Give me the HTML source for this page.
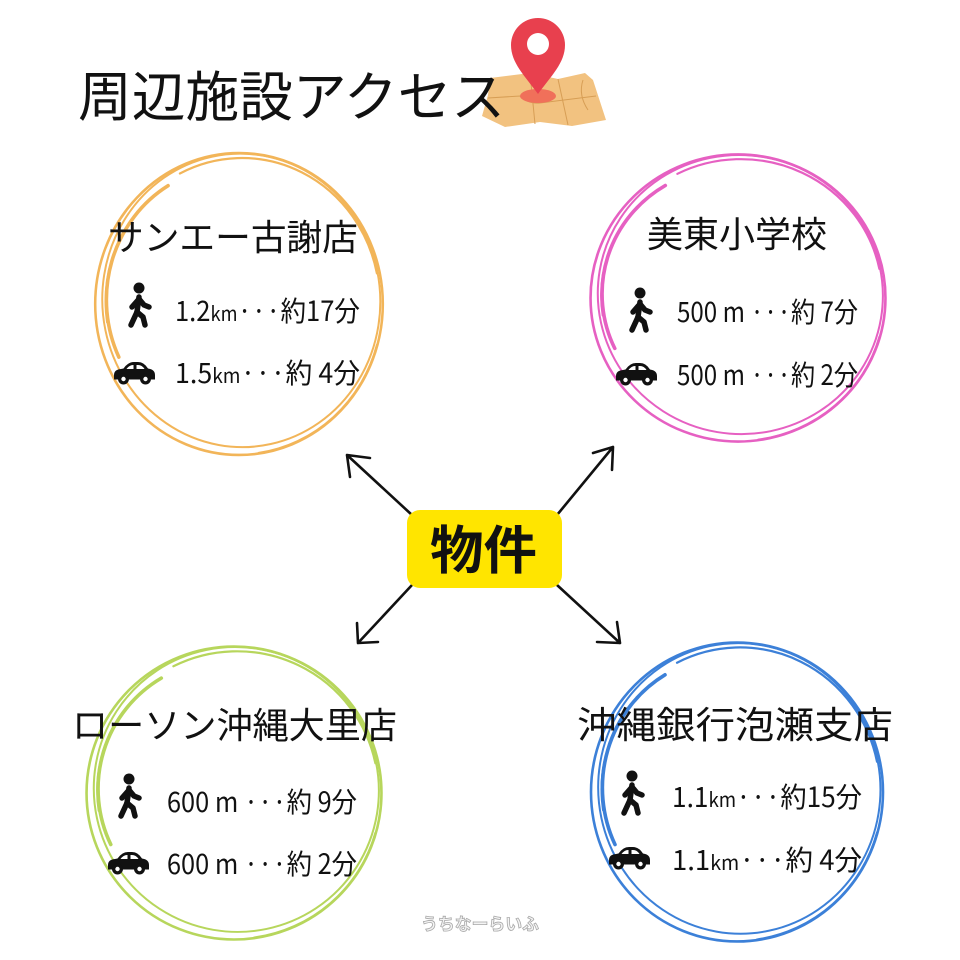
<!DOCTYPE html>
<html><head><meta charset="utf-8">
<style>
html,body{margin:0;padding:0;background:#fff;}
svg{display:block;}
text{font-family:"Noto Sans CJK JP","Liberation Sans",sans-serif;fill:#111;}
</style></head>
<body>
<svg width="960" height="960" viewBox="0 0 960 960" xmlns="http://www.w3.org/2000/svg">
<defs>
  <g id="ring" fill="none" stroke="currentColor" stroke-linecap="round">
    <ellipse cx="0" cy="0" rx="146" ry="148" stroke-width="2.6"/>
    <ellipse cx="3" cy="-3" rx="141" ry="144" stroke-width="2" transform="rotate(-12)"/>
    <path d="M -60,-128 A 140 142 0 0 1 140,-30" stroke-width="2.2"/>
    <path d="M -72,-116 A 128 130 0 0 0 -122,52" stroke-width="3.6"/>
    <path d="M -98,-96 A 136 136 0 0 0 -134,18" stroke-width="2"/>
    <path d="M 140,40 A 146 146 0 0 1 20,146" stroke-width="2"/>
  </g>
  <g id="walk" stroke="#111" stroke-width="5.5" stroke-linecap="round" stroke-linejoin="round" fill="none">
    <circle cx="12" cy="5" r="5.5" fill="#111" stroke="none"/>
    <path d="M12,14 L10,29"/>
    <path d="M10,29 L4,42"/>
    <path d="M10,29 L16,34 L18,42"/>
    <path d="M12,16 L5,24"/>
    <path d="M12,16 L17,22 L22,24"/>
  </g>
  <g id="car">
    <path d="M1,13 Q1,7.5 8,7 L10.5,6.5 Q15,0 21,0 L25,0 Q31,0 35,6.5 Q42,7.5 42,13 L42,17.5 L1,17.5 Z" fill="#111"/>
    <path d="M13.5,7 Q16.5,3 20,3 L20.5,3 L20.5,7 Z M23.5,3 L25,3 Q29,3 31.5,7 L23.5,7 Z" fill="#fff"/>
    <circle cx="10.5" cy="17" r="5.5" fill="#111"/>
    <circle cx="10.5" cy="17" r="2.2" fill="#fff"/>
    <circle cx="32.5" cy="17" r="5.5" fill="#111"/>
    <circle cx="32.5" cy="17" r="2.2" fill="#fff"/>
  </g>
</defs>

<!-- map icon -->
<polygon points="490,78 530,73 558,79 585,73 593,80 606,120 572,126 540,122 505,127 482,116 488,95" fill="#F2C280"/>
<g stroke="#D79E55" stroke-width="1" fill="none">
  <path d="M530,73 L535,124"/>
  <path d="M558,79 L568,125"/>
  <path d="M488,98 L520,96 Q528,104 540,103 L596,96"/>
  <path d="M583,80 Q578,95 588,110"/>
</g>
<ellipse cx="538" cy="96" rx="18" ry="7" fill="#F0705A"/>
<path d="M538,94 C525,76 511,63 511,45 A27,27 0 0 1 565,45 C565,63 551,76 538,94 Z" fill="#E8404E"/>
<circle cx="538" cy="44" r="11" fill="#fff"/>

<!-- title -->
<text x="78" y="116" font-size="54" textLength="427" lengthAdjust="spacingAndGlyphs">周辺施設アクセス</text>

<!-- rings -->
<use href="#ring" transform="translate(239,304) scale(0.985,1.02)" style="color:#F2B559"/>
<use href="#ring" transform="translate(738,298) scale(1.01,0.97)" style="color:#E660C2"/>
<use href="#ring" transform="translate(234,793) scale(1.01,0.99)" style="color:#B7D65C"/>
<use href="#ring" transform="translate(737,792) scale(1.0,1.01)" style="color:#3C80D8"/>

<!-- arrows -->
<g stroke="#111" stroke-width="2.6" stroke-linecap="round" fill="none">
  <path d="M412,515 L347,455 M347,455 L370,458 M347,455 L350,477"/>
  <path d="M557,515 L613,447 M613,447 L593,453 M613,447 L612,470"/>
  <path d="M412,585 L358,643 M358,643 L357,623 M358,643 L378,642"/>
  <path d="M557,585 L620,643 M620,643 L597,642 M620,643 L617,622"/>
</g>

<!-- center box -->
<rect x="407" y="510" width="155" height="78" rx="13" fill="#FFE500"/>
<text x="430" y="569" font-size="52" font-weight="bold" textLength="107" lengthAdjust="spacingAndGlyphs">物件</text>

<!-- orange -->
<text x="108" y="250" font-size="36" textLength="250" lengthAdjust="spacingAndGlyphs">サンエー古謝店</text>
<use href="#walk" transform="translate(127,283)"/>
<text x="175" y="321" font-size="28" textLength="185" lengthAdjust="spacingAndGlyphs">1.2<tspan font-size="20">km</tspan>···約17分</text>
<use href="#car" transform="translate(113,362)"/>
<text x="175" y="383" font-size="28" textLength="185" lengthAdjust="spacingAndGlyphs">1.5<tspan font-size="20">km</tspan>···約 4分</text>

<!-- pink -->
<text x="647" y="247" font-size="36" textLength="180" lengthAdjust="spacingAndGlyphs">美東小学校</text>
<use href="#walk" transform="translate(628,288)"/>
<text x="677" y="322" font-size="28" textLength="181" lengthAdjust="spacingAndGlyphs">500 m ···約 7分</text>
<use href="#car" transform="translate(615,363)"/>
<text x="677" y="385" font-size="28" textLength="181" lengthAdjust="spacingAndGlyphs">500 m ···約 2分</text>

<!-- green -->
<text x="72" y="738" font-size="36" textLength="325" lengthAdjust="spacingAndGlyphs">ローソン沖縄大里店</text>
<use href="#walk" transform="translate(117,774)"/>
<text x="167" y="812" font-size="28" textLength="190" lengthAdjust="spacingAndGlyphs">600 m ···約 9分</text>
<use href="#car" transform="translate(107,852)"/>
<text x="167" y="874" font-size="28" textLength="190" lengthAdjust="spacingAndGlyphs">600 m ···約 2分</text>

<!-- blue -->
<text x="577" y="738" font-size="37" textLength="316" lengthAdjust="spacingAndGlyphs">沖縄銀行泡瀬支店</text>
<use href="#walk" transform="translate(620,771)"/>
<text x="672" y="807" font-size="28" textLength="190" lengthAdjust="spacingAndGlyphs">1.1<tspan font-size="20">km</tspan>···約15分</text>
<use href="#car" transform="translate(608,847)"/>
<text x="672" y="870" font-size="28" textLength="190" lengthAdjust="spacingAndGlyphs">1.1<tspan font-size="20">km</tspan>···約 4分</text>

<!-- watermark -->
<text x="421" y="930" font-size="17" font-weight="bold" textLength="118" lengthAdjust="spacingAndGlyphs" style="fill:#f4f4f4;stroke:#a8a8a8;stroke-width:0.8">うちなーらいふ</text>
</svg>
</body></html>
